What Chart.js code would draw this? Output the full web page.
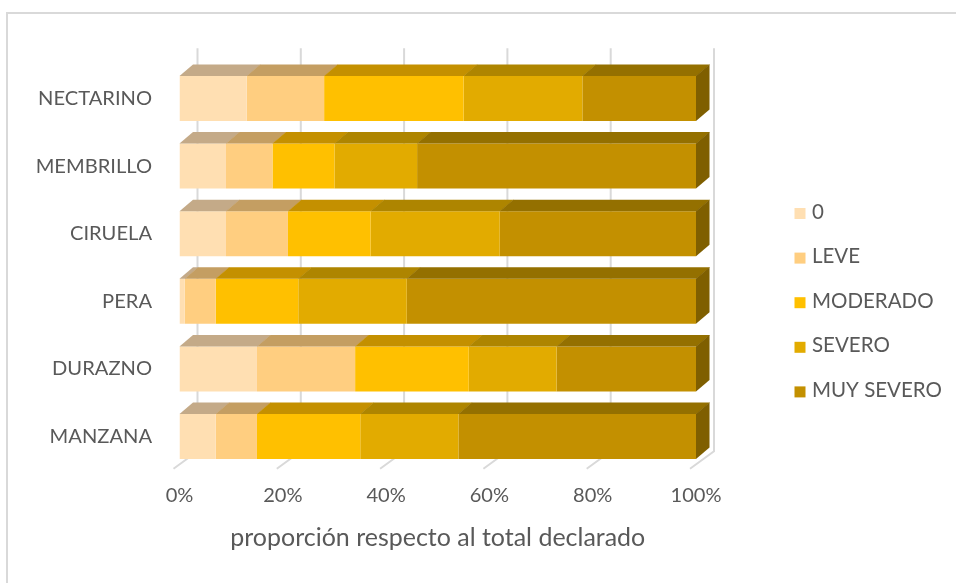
<!DOCTYPE html>
<html>
<head>
<meta charset="utf-8">
<script src="https://cdn.jsdelivr.net/npm/chart.js@4.4.1/dist/chart.umd.min.js"></script>
<style>
html,body{margin:0;padding:0;background:#ffffff;}
#wrap{width:956px;height:583px;position:relative;}
</style>
</head>
<body>
<div id="wrap"><canvas id="c" width="956" height="583"></canvas></div>
<script>
// ---- data ----
const categories = ['NECTARINO', 'MEMBRILLO', 'CIRUELA', 'PERA', 'DURAZNO', 'MANZANA'];
const seriesNames = ['0', 'LEVE', 'MODERADO', 'SEVERO', 'MUY SEVERO'];
const valuesCero      = [13, 9, 9, 1, 15, 7];
const valuesLeve      = [15, 9, 12, 6, 19, 8];
const valuesModerado  = [27, 12, 16, 16, 22, 20];
const valuesSevero    = [23, 16, 25, 21, 17, 19];
const valuesMuySevero = [22, 54, 38, 56, 27, 46];
const xTickValues = [0, 20, 40, 60, 80, 100];
const axisTitle = 'proporción respecto al total declarado';

// ---- styles ----
const frontColors = ['#FFDFB2', '#FFCE80', '#FFC000', '#E2AB00', '#C39000'];
const topColors   = ['#C4AA88', '#C49E62', '#C49000', '#AE8500', '#947000'];
const sideColor = '#7F5F00';
const TEXT = '#595959';
const FAMILY = 'Lato, "Noto Sans", sans-serif';
const DX = 13.5, DY = 11.5;   // bar depth
const WALL = 18;              // back wall offset
const GRID = '#D9D9D9';

const mctx = document.createElement('canvas').getContext('2d');
function fitSize(text, target) {
  mctx.font = '100px ' + FAMILY;
  return 100 * target / mctx.measureText(text).width;
}
const labelSize = fitSize('NECTARINO', 114);
const legendSize = fitSize('MUY SEVERO', 130);
const tickSize = fitSize('100%', 51);
const titleSize = fitSize(axisTitle, 415);

const seriesValues = [valuesCero, valuesLeve, valuesModerado, valuesSevero, valuesMuySevero];

const threeD = {
  id: 'threeD',
  beforeDraw(chart) {
    const ctx = chart.ctx;
    ctx.save();
    ctx.strokeStyle = GRID;
    ctx.lineWidth = 2;
    ctx.strokeRect(7, 13, 1000, 1000);
    ctx.restore();
  },
  beforeDatasetsDraw(chart) {
    const ctx = chart.ctx, xs = chart.scales.x, area = chart.chartArea;
    ctx.save();
    ctx.strokeStyle = GRID;
    ctx.lineWidth = 2;
    const topY = area.top - 16.5, backBottom = area.bottom - 19, frontBottom = area.bottom - 1.5;
    xTickValues.forEach(v => {
      const fx = xs.getPixelForValue(v);
      const bx = fx + WALL;
      ctx.beginPath();
      ctx.moveTo(bx, topY);
      ctx.lineTo(bx, backBottom);
      ctx.lineTo(fx - 6, frontBottom);
      ctx.stroke();
    });
    ctx.restore();
  },
  afterDatasetsDraw(chart) {
    const ctx = chart.ctx;
    const n = chart.data.datasets.length;
    ctx.save();
    chart.data.datasets.forEach((ds, di) => {
      const meta = chart.getDatasetMeta(di);
      meta.data.forEach(bar => {
        const p = bar.getProps(['x', 'y', 'base', 'height'], true);
        const t = p.y - p.height / 2, b = p.y + p.height / 2;
        const l = Math.min(p.x, p.base), r = Math.max(p.x, p.base);
        if (r - l <= 0) return;
        ctx.fillStyle = topColors[di];
        ctx.beginPath();
        ctx.moveTo(l, t);
        ctx.lineTo(r + 0.5, t);
        ctx.lineTo(r + 0.5 + DX, t - DY);
        ctx.lineTo(l + DX, t - DY);
        ctx.closePath();
        ctx.fill();
        if (di === n - 1) {
          ctx.fillStyle = sideColor;
          ctx.beginPath();
          ctx.moveTo(r, t);
          ctx.lineTo(r + DX, t - DY);
          ctx.lineTo(r + DX, b - DY);
          ctx.lineTo(r, b);
          ctx.closePath();
          ctx.fill();
        }
      });
    });
    ctx.restore();
  },
  afterDraw(chart) {
    const ctx = chart.ctx;
    ctx.save();
    ctx.font = legendSize + 'px ' + FAMILY;
    ctx.textBaseline = 'middle';
    ctx.textAlign = 'left';
    chart.data.datasets.forEach((ds, i) => {
      const yc = 212 + i * 44.6;
      ctx.fillStyle = ds.backgroundColor;
      ctx.fillRect(794.5, yc - 4, 11, 11);
      ctx.fillStyle = TEXT;
      ctx.fillText(ds.label, 812, yc);
    });
    ctx.restore();
  }
};

new Chart(document.getElementById('c'), {
  type: 'bar',
  data: {
    labels: categories,
    datasets: seriesNames.map((name, i) => ({
      label: name,
      data: seriesValues[i],
      backgroundColor: frontColors[i],
      borderWidth: 0,
      barPercentage: 0.666,
      categoryPercentage: 1
    }))
  },
  options: {
    indexAxis: 'y',
    responsive: false,
    animation: false,
    layout: { padding: { top: 64.7, right: 260, left: 0, bottom: 0 } },
    plugins: { legend: { display: false }, tooltip: { enabled: false } },
    scales: {
      x: {
        stacked: true, min: 0, max: 100,
        grid: { display: false, drawTicks: false },
        border: { display: false },
        ticks: {
          stepSize: 20, maxRotation: 0,
          callback: v => v + '%',
          color: TEXT,
          font: { family: FAMILY, size: tickSize },
          padding: 25.7 - tickSize * 0.6
        },
        title: {
          display: true, text: axisTitle, color: TEXT,
          font: { family: FAMILY, size: titleSize },
          padding: { top: 0, bottom: 45 - titleSize * 0.6 }
        },
        afterFit(s) { s.height = 112.7; }
      },
      y: {
        stacked: true,
        grid: { display: false, drawTicks: false },
        border: { display: false },
        ticks: { color: TEXT, font: { family: FAMILY, size: labelSize }, padding: 27.5 },
        afterFit(s) { s.width = 179.5; }
      }
    }
  },
  plugins: [threeD]
});
</script>
</body>
</html>
